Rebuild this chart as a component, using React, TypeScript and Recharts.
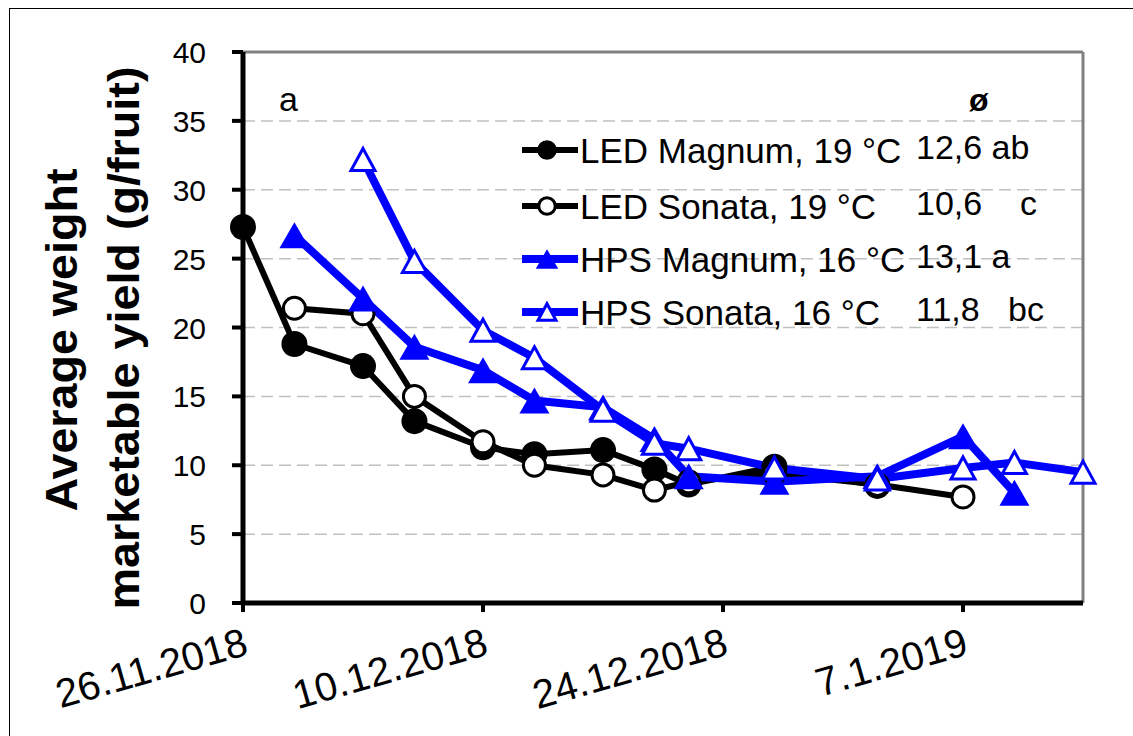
import { LineChart, Line, XAxis, YAxis, CartesianGrid, ReferenceLine } from 'recharts'

// days after 26.11.2018
const X_TICKS = [0, 14, 28, 42]
const X_TICK_LABELS = ['26.11.2018', '10.12.2018', '24.12.2018', '7.1.2019']
const Y_TICKS = [0, 5, 10, 15, 20, 25, 30, 35, 40]

const LED_MAGNUM_DAYS = [0, 3, 7, 10, 14, 17, 21, 24, 26, 31, 37]
const LED_MAGNUM = [27.3, 18.8, 17.2, 13.2, 11.3, 10.8, 11.1, 9.7, 8.6, 9.9, 8.5]

const LED_SONATA_DAYS = [3, 7, 10, 14, 17, 21, 24, 26, 31, 37, 42]
const LED_SONATA = [21.4, 21.0, 15.0, 11.7, 10.0, 9.3, 8.2, 8.8, 9.4, 8.6, 7.7]

const HPS_MAGNUM_DAYS = [3, 7, 10, 14, 17, 21, 24, 26, 31, 37, 42, 45]
const HPS_MAGNUM = [26.7, 22.1, 18.6, 16.9, 14.7, 14.2, 11.9, 9.2, 8.8, 9.2, 12.1, 8.0]

const HPS_SONATA_DAYS = [7, 10, 14, 17, 21, 24, 26, 31, 37, 42, 45, 49]
const HPS_SONATA = [32.2, 24.8, 19.8, 17.8, 14.0, 11.6, 11.2, 9.8, 9.0, 9.8, 10.2, 9.5]

const SERIES_NAMES = ['LED Magnum, 19 °C', 'LED Sonata, 19 °C', 'HPS Magnum, 16 °C', 'HPS Sonata, 16 °C']
const MEAN_LABELS = ['12,6 ab', '10,6    c', '13,1 a', '11,8   bc']
const MARKERS = ['dotFilled', 'dotOpen', 'triFilled', 'triOpen']

const FONT = '"Liberation Sans", Arial, sans-serif'
const BLUE = '#0000ff'

const toPoints = (days: number[], values: number[]) => days.map((day, i) => ({ day, v: values[i] }))

function Marker({ kind, cx, cy, s = 1 }: { kind: string; cx: number; cy: number; s?: number }) {
  if (kind === 'dotFilled') return <circle cx={cx} cy={cy} r={13 * s} fill="#000" />
  if (kind === 'dotOpen') return <circle cx={cx} cy={cy} r={11 * s} fill="#fff" stroke="#000" strokeWidth={3} />
  if (kind === 'triFilled') {
    const w = 15 * s
    const h = 13 * s
    return <path d={`M${cx},${cy - h} L${cx + w},${cy + h} L${cx - w},${cy + h} Z`} fill={BLUE} />
  }
  const w = 12 * s
  const h = 11 * s
  return <path d={`M${cx},${cy - h} L${cx + w},${cy + h} L${cx - w},${cy + h} Z`} fill="#fff" stroke={BLUE} strokeWidth={3} />
}

const makeDot = (kind: string) => (props: any) => {
  const { cx, cy, index } = props
  if (cx == null || cy == null) return <g key={index} />
  return <Marker key={index} kind={kind} cx={cx} cy={cy} />
}

function XTick({ x, y, payload }: any) {
  const label = X_TICK_LABELS[X_TICKS.indexOf(payload.value)]
  return (
    <text
      transform={`translate(${x + 7},${y + 40}) rotate(-16)`}
      textAnchor="end"
      fontSize={40}
      fontFamily={FONT}
      fill="#000"
    >
      {label}
    </text>
  )
}

function YTick({ x, y, payload }: any) {
  return (
    <text x={x - 24} y={y + 11} textAnchor="end" fontSize={30} fontFamily={FONT} fill="#000">
      {payload.value}
    </text>
  )
}

export default function App() {
  return (
    <div style={{ position: 'absolute', left: 0, top: 0, width: 1133, height: 736, background: '#fff' }}>
      <LineChart width={1133} height={736} margin={{ top: 52, right: 50, bottom: 73, left: 183 }}>
        <CartesianGrid vertical={false} stroke="#c0c0c0" strokeDasharray="12 6" strokeWidth={1.5} />
        <ReferenceLine y={40} stroke="#808080" strokeWidth={3} />
        <ReferenceLine x={49} stroke="#808080" strokeWidth={3} />
        <XAxis
          type="number"
          dataKey="day"
          domain={[0, 49]}
          ticks={X_TICKS}
          height={60}
          axisLine={{ stroke: '#000', strokeWidth: 5 }}
          tickLine={{ stroke: '#000', strokeWidth: 4 }}
          tickSize={9}
          tick={<XTick />}
          interval={0}
        />
        <YAxis
          type="number"
          domain={[0, 40]}
          ticks={Y_TICKS}
          width={60}
          axisLine={{ stroke: '#000', strokeWidth: 5 }}
          tickLine={{ stroke: '#000', strokeWidth: 4 }}
          tickSize={11}
          tick={<YTick />}
          interval={0}
        />
        <Line data={toPoints(LED_MAGNUM_DAYS, LED_MAGNUM)} dataKey="v" type="linear" stroke="#000" strokeWidth={6} dot={makeDot('dotFilled')} isAnimationActive={false} />
        <Line data={toPoints(LED_SONATA_DAYS, LED_SONATA)} dataKey="v" type="linear" stroke="#000" strokeWidth={6} dot={makeDot('dotOpen')} isAnimationActive={false} />
        <Line data={toPoints(HPS_MAGNUM_DAYS, HPS_MAGNUM)} dataKey="v" type="linear" stroke={BLUE} strokeWidth={8} dot={makeDot('triFilled')} isAnimationActive={false} />
        <Line data={toPoints(HPS_SONATA_DAYS, HPS_SONATA)} dataKey="v" type="linear" stroke={BLUE} strokeWidth={8} dot={makeDot('triOpen')} isAnimationActive={false} />
      </LineChart>

      <svg width={1133} height={736} style={{ position: 'absolute', left: 0, top: 0, pointerEvents: 'none' }}>
        {/* frame */}
        <line x1={9.5} y1={8} x2={9.5} y2={736} stroke="#000" strokeWidth={1} />
        <line x1={9} y1={8.5} x2={1133} y2={8.5} stroke="#000" strokeWidth={1} />

        {/* y axis title */}
        <text
          transform="translate(77,340) rotate(-90)"
          textAnchor="middle"
          fontSize={44}
          fontWeight="bold"
          fontFamily={FONT}
          textLength={343}
          lengthAdjust="spacingAndGlyphs"
        >
          Average weight
        </text>
        <text
          transform="translate(139,338) rotate(-90)"
          textAnchor="middle"
          fontSize={44}
          fontWeight="bold"
          fontFamily={FONT}
          textLength={543}
          lengthAdjust="spacingAndGlyphs"
        >
          marketable yield (g/fruit)
        </text>

        <text x={279} y={111} fontSize={34} fontFamily={FONT}>a</text>
        <text x={969} y={111} fontSize={32} fontWeight="bold" fontFamily={FONT}>ø</text>

        {/* legend */}
        {SERIES_NAMES.map((name, i) => {
          const cy = [150, 206, 259, 312][i]
          const isBlue = i >= 2
          return (
            <g key={name}>
              <line x1={522} y1={cy} x2={578} y2={cy} stroke={isBlue ? BLUE : '#000'} strokeWidth={isBlue ? 8 : 6} />
              <Marker kind={MARKERS[i]} cx={547} cy={cy} s={0.75} />
              <text x={580} y={cy + 13} fontSize={35} fontFamily={FONT} xmlSpace="preserve">{name}</text>
              <text x={916} y={cy + 9} fontSize={34} fontFamily={FONT} xmlSpace="preserve" style={{ whiteSpace: 'pre' }}>{MEAN_LABELS[i]}</text>
            </g>
          )
        })}
      </svg>
    </div>
  )
}
